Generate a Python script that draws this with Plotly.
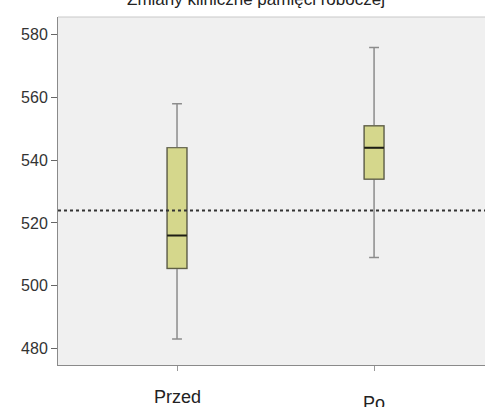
import plotly.graph_objects as go

# ---- data ----
categories = ["Przed", "Po"]
lower_whisker = [483, 509]
q1_values = [505.5, 534]
medians = [516, 544]
q3_values = [544, 551]
upper_whisker = [558, 576]
reference_line = 524
y_ticks = [480, 500, 520, 540, 560, 580]
title_text = "Zmiany kliniczne pamięci roboczej"
label_offsets = [-0.092, -0.109]

W, H = 485, 407
ml, mr, mt, mb = 58, 0, 17, 42

fig = go.Figure()

for i, cat in enumerate(categories):
    # whiskers (gray)
    fig.add_trace(go.Box(
        x=[cat], q1=[q1_values[i]], median=[medians[i]], q3=[q3_values[i]],
        lowerfence=[lower_whisker[i]], upperfence=[upper_whisker[i]],
        width=0.1, whiskerwidth=0.5, fillcolor="rgba(0,0,0,0)",
        line=dict(color="#8c8c8c", width=1.5), showlegend=False, hoverinfo="skip"))
    # box body
    fig.add_trace(go.Box(
        x=[cat], q1=[q1_values[i]], median=[medians[i]], q3=[q3_values[i]],
        lowerfence=[q1_values[i]], upperfence=[q3_values[i]],
        width=0.1, whiskerwidth=0, fillcolor="#d5d78c",
        line=dict(color="#5f5f45", width=1.2), showlegend=False, hoverinfo="skip"))
    # median (thick dark)
    fig.add_trace(go.Box(
        x=[cat], q1=[medians[i]], median=[medians[i]], q3=[medians[i]],
        lowerfence=[medians[i]], upperfence=[medians[i]],
        width=0.1, whiskerwidth=0, fillcolor="rgba(0,0,0,0)",
        line=dict(color="#1e1e14", width=2.2), showlegend=False, hoverinfo="skip"))

fig.add_shape(type="line", xref="paper", x0=0, x1=1, yref="y",
              y0=reference_line, y1=reference_line,
              line=dict(color="#333333", width=2, dash="dot"))

for i, cat in enumerate(categories):
    fig.add_annotation(x=cat, xref="x", y=label_offsets[i], yref="paper",
                       text=cat, showarrow=False, yanchor="middle",
                       font=dict(size=18, color="#222222"))

fig.add_annotation(x=(255.5 - ml) / (W - ml - mr), xref="paper",
                   y=1 + (mt - 0) / (H - mt - mb), yref="paper",
                   text=title_text, showarrow=False, yanchor="middle",
                   font=dict(size=17, color="#222222"))

fig.update_layout(
    width=W, height=H, margin=dict(l=ml, r=mr, t=mt, b=mb, pad=0),
    paper_bgcolor="white", plot_bgcolor="#f0f0f0",
    boxmode="overlay",
    font=dict(family="Liberation Sans, Arial, sans-serif", size=16, color="#333333"),
    xaxis=dict(type="category", range=[-0.604, 1.563], showgrid=False,
               showticklabels=False, ticks="outside", ticklen=5, tickcolor="#999999",
               showline=True, linecolor="#8a8a8a", linewidth=1, mirror=False,
               zeroline=False),
    yaxis=dict(range=[474.7, 585.7], tickvals=y_ticks, showgrid=False,
               ticks="outside", ticklen=6, tickcolor="#666666",
               showline=True, linecolor="#8a8a8a", linewidth=1, zeroline=False,
               tickfont=dict(size=16, color="#333333")),
)
fig.add_shape(type="line", xref="paper", yref="paper", x0=0, x1=1, y0=1, y1=1,
              line=dict(color="#c8c8c8", width=1))

fig.write_html("out.html", config={"displayModeBar": False},
               post_script="document.body.style.margin='0';document.body.style.overflow='hidden';")
